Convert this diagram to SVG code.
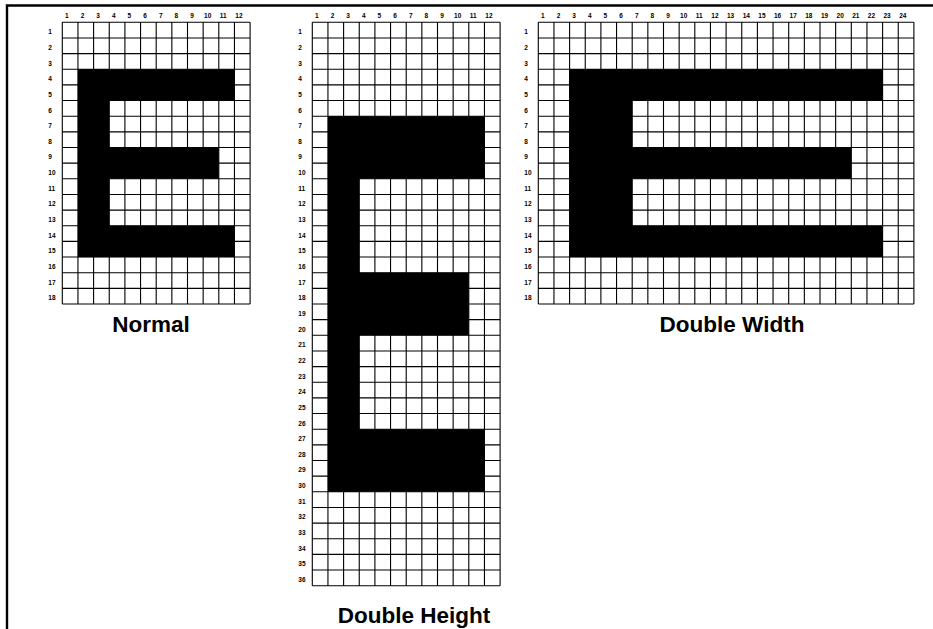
<svg xmlns="http://www.w3.org/2000/svg" width="933" height="629" viewBox="0 0 933 629">
<style>
.grid{fill:none;stroke:#000;stroke-width:1.1}
.blk{fill:#000}
.n{font-family:"Liberation Sans",Arial,sans-serif;font-weight:bold;font-size:6.5px;fill:#000}
.c{text-anchor:middle}
.t{font-family:"Liberation Sans",Arial,sans-serif;font-weight:bold;font-size:22.5px;fill:#000;text-anchor:middle}
.frame{fill:none;stroke:#000;stroke-width:2.4}
</style>
<rect width="933" height="629" fill="#fff"/>
<path class="frame" d="M7,629V5.5H933"/>

<g id="normal" transform="translate(62.3,22.3)">
<rect class="blk" x="15.65" y="46.95" width="156.5" height="31.3"/>
<rect class="blk" x="15.65" y="46.95" width="31.3" height="187.8"/>
<rect class="blk" x="15.65" y="125.2" width="140.85" height="31.3"/>
<rect class="blk" x="15.65" y="203.45" width="156.5" height="31.3"/>
<path class="grid" d="M0,0v281.7m15.65,-281.7v281.7m15.65,-281.7v281.7m15.65,-281.7v281.7m15.65,-281.7v281.7m15.65,-281.7v281.7m15.65,-281.7v281.7m15.65,-281.7v281.7m15.65,-281.7v281.7m15.65,-281.7v281.7m15.65,-281.7v281.7m15.65,-281.7v281.7m15.65,-281.7v281.7M0,0h187.8m-187.8,15.65h187.8m-187.8,15.65h187.8m-187.8,15.65h187.8m-187.8,15.65h187.8m-187.8,15.65h187.8m-187.8,15.65h187.8m-187.8,15.65h187.8m-187.8,15.65h187.8m-187.8,15.65h187.8m-187.8,15.65h187.8m-187.8,15.65h187.8m-187.8,15.65h187.8m-187.8,15.65h187.8m-187.8,15.65h187.8m-187.8,15.65h187.8m-187.8,15.65h187.8m-187.8,15.65h187.8m-187.8,15.65h187.8"/>
<text class="n c" x="4.5" y="-4.6">1</text><text class="n c" x="20.15" y="-4.6">2</text><text class="n c" x="35.8" y="-4.6">3</text><text class="n c" x="51.45" y="-4.6">4</text><text class="n c" x="67.1" y="-4.6">5</text><text class="n c" x="82.75" y="-4.6">6</text><text class="n c" x="98.4" y="-4.6">7</text><text class="n c" x="114.05" y="-4.6">8</text><text class="n c" x="129.7" y="-4.6">9</text><text class="n c" x="145.35" y="-4.6">10</text><text class="n c" x="161" y="-4.6">11</text><text class="n c" x="176.65" y="-4.6">12</text>
<text class="n" x="-14" y="12">1</text><text class="n" x="-14" y="27.65">2</text><text class="n" x="-14" y="43.3">3</text><text class="n" x="-14" y="58.95">4</text><text class="n" x="-14" y="74.6">5</text><text class="n" x="-14" y="90.25">6</text><text class="n" x="-14" y="105.9">7</text><text class="n" x="-14" y="121.55">8</text><text class="n" x="-14" y="137.2">9</text><text class="n" x="-14" y="152.85">10</text><text class="n" x="-14" y="168.5">11</text><text class="n" x="-14" y="184.15">12</text><text class="n" x="-14" y="199.8">13</text><text class="n" x="-14" y="215.45">14</text><text class="n" x="-14" y="231.1">15</text><text class="n" x="-14" y="246.75">16</text><text class="n" x="-14" y="262.4">17</text><text class="n" x="-14" y="278.05">18</text>
</g>
<text id="label-normal" class="t" x="151" y="332">Normal</text>

<g id="double-height" transform="translate(312.3,22.3)">
<rect class="blk" x="15.65" y="93.9" width="156.5" height="62.6"/>
<rect class="blk" x="15.65" y="93.9" width="31.3" height="375.6"/>
<rect class="blk" x="15.65" y="250.4" width="140.85" height="62.6"/>
<rect class="blk" x="15.65" y="406.9" width="156.5" height="62.6"/>
<path class="grid" d="M0,0v563.4m15.65,-563.4v563.4m15.65,-563.4v563.4m15.65,-563.4v563.4m15.65,-563.4v563.4m15.65,-563.4v563.4m15.65,-563.4v563.4m15.65,-563.4v563.4m15.65,-563.4v563.4m15.65,-563.4v563.4m15.65,-563.4v563.4m15.65,-563.4v563.4m15.65,-563.4v563.4M0,0h187.8m-187.8,15.65h187.8m-187.8,15.65h187.8m-187.8,15.65h187.8m-187.8,15.65h187.8m-187.8,15.65h187.8m-187.8,15.65h187.8m-187.8,15.65h187.8m-187.8,15.65h187.8m-187.8,15.65h187.8m-187.8,15.65h187.8m-187.8,15.65h187.8m-187.8,15.65h187.8m-187.8,15.65h187.8m-187.8,15.65h187.8m-187.8,15.65h187.8m-187.8,15.65h187.8m-187.8,15.65h187.8m-187.8,15.65h187.8m-187.8,15.65h187.8m-187.8,15.65h187.8m-187.8,15.65h187.8m-187.8,15.65h187.8m-187.8,15.65h187.8m-187.8,15.65h187.8m-187.8,15.65h187.8m-187.8,15.65h187.8m-187.8,15.65h187.8m-187.8,15.65h187.8m-187.8,15.65h187.8m-187.8,15.65h187.8m-187.8,15.65h187.8m-187.8,15.65h187.8m-187.8,15.65h187.8m-187.8,15.65h187.8m-187.8,15.65h187.8m-187.8,15.65h187.8"/>
<text class="n c" x="4.5" y="-4.6">1</text><text class="n c" x="20.15" y="-4.6">2</text><text class="n c" x="35.8" y="-4.6">3</text><text class="n c" x="51.45" y="-4.6">4</text><text class="n c" x="67.1" y="-4.6">5</text><text class="n c" x="82.75" y="-4.6">6</text><text class="n c" x="98.4" y="-4.6">7</text><text class="n c" x="114.05" y="-4.6">8</text><text class="n c" x="129.7" y="-4.6">9</text><text class="n c" x="145.35" y="-4.6">10</text><text class="n c" x="161" y="-4.6">11</text><text class="n c" x="176.65" y="-4.6">12</text>
<text class="n" x="-14" y="12">1</text><text class="n" x="-14" y="27.65">2</text><text class="n" x="-14" y="43.3">3</text><text class="n" x="-14" y="58.95">4</text><text class="n" x="-14" y="74.6">5</text><text class="n" x="-14" y="90.25">6</text><text class="n" x="-14" y="105.9">7</text><text class="n" x="-14" y="121.55">8</text><text class="n" x="-14" y="137.2">9</text><text class="n" x="-14" y="152.85">10</text><text class="n" x="-14" y="168.5">11</text><text class="n" x="-14" y="184.15">12</text><text class="n" x="-14" y="199.8">13</text><text class="n" x="-14" y="215.45">14</text><text class="n" x="-14" y="231.1">15</text><text class="n" x="-14" y="246.75">16</text><text class="n" x="-14" y="262.4">17</text><text class="n" x="-14" y="278.05">18</text><text class="n" x="-14" y="293.7">19</text><text class="n" x="-14" y="309.35">20</text><text class="n" x="-14" y="325">21</text><text class="n" x="-14" y="340.65">22</text><text class="n" x="-14" y="356.3">23</text><text class="n" x="-14" y="371.95">24</text><text class="n" x="-14" y="387.6">25</text><text class="n" x="-14" y="403.25">26</text><text class="n" x="-14" y="418.9">27</text><text class="n" x="-14" y="434.55">28</text><text class="n" x="-14" y="450.2">29</text><text class="n" x="-14" y="465.85">30</text><text class="n" x="-14" y="481.5">31</text><text class="n" x="-14" y="497.15">32</text><text class="n" x="-14" y="512.8">33</text><text class="n" x="-14" y="528.45">34</text><text class="n" x="-14" y="544.1">35</text><text class="n" x="-14" y="559.75">36</text>
</g>
<text id="label-double-height" class="t" x="414" y="623">Double Height</text>

<g id="double-width" transform="translate(538.3,22.3)">
<rect class="blk" x="31.3" y="46.95" width="313" height="31.3"/>
<rect class="blk" x="31.3" y="46.95" width="62.6" height="187.8"/>
<rect class="blk" x="31.3" y="125.2" width="281.7" height="31.3"/>
<rect class="blk" x="31.3" y="203.45" width="313" height="31.3"/>
<path class="grid" d="M0,0v281.7m15.65,-281.7v281.7m15.65,-281.7v281.7m15.65,-281.7v281.7m15.65,-281.7v281.7m15.65,-281.7v281.7m15.65,-281.7v281.7m15.65,-281.7v281.7m15.65,-281.7v281.7m15.65,-281.7v281.7m15.65,-281.7v281.7m15.65,-281.7v281.7m15.65,-281.7v281.7m15.65,-281.7v281.7m15.65,-281.7v281.7m15.65,-281.7v281.7m15.65,-281.7v281.7m15.65,-281.7v281.7m15.65,-281.7v281.7m15.65,-281.7v281.7m15.65,-281.7v281.7m15.65,-281.7v281.7m15.65,-281.7v281.7m15.65,-281.7v281.7m15.65,-281.7v281.7M0,0h375.6m-375.6,15.65h375.6m-375.6,15.65h375.6m-375.6,15.65h375.6m-375.6,15.65h375.6m-375.6,15.65h375.6m-375.6,15.65h375.6m-375.6,15.65h375.6m-375.6,15.65h375.6m-375.6,15.65h375.6m-375.6,15.65h375.6m-375.6,15.65h375.6m-375.6,15.65h375.6m-375.6,15.65h375.6m-375.6,15.65h375.6m-375.6,15.65h375.6m-375.6,15.65h375.6m-375.6,15.65h375.6m-375.6,15.65h375.6"/>
<text class="n c" x="4.5" y="-4.6">1</text><text class="n c" x="20.15" y="-4.6">2</text><text class="n c" x="35.8" y="-4.6">3</text><text class="n c" x="51.45" y="-4.6">4</text><text class="n c" x="67.1" y="-4.6">5</text><text class="n c" x="82.75" y="-4.6">6</text><text class="n c" x="98.4" y="-4.6">7</text><text class="n c" x="114.05" y="-4.6">8</text><text class="n c" x="129.7" y="-4.6">9</text><text class="n c" x="145.35" y="-4.6">10</text><text class="n c" x="161" y="-4.6">11</text><text class="n c" x="176.65" y="-4.6">12</text><text class="n c" x="192.3" y="-4.6">13</text><text class="n c" x="207.95" y="-4.6">14</text><text class="n c" x="223.6" y="-4.6">15</text><text class="n c" x="239.25" y="-4.6">16</text><text class="n c" x="254.9" y="-4.6">17</text><text class="n c" x="270.55" y="-4.6">18</text><text class="n c" x="286.2" y="-4.6">19</text><text class="n c" x="301.85" y="-4.6">20</text><text class="n c" x="317.5" y="-4.6">21</text><text class="n c" x="333.15" y="-4.6">22</text><text class="n c" x="348.8" y="-4.6">23</text><text class="n c" x="364.45" y="-4.6">24</text>
<text class="n" x="-14" y="12">1</text><text class="n" x="-14" y="27.65">2</text><text class="n" x="-14" y="43.3">3</text><text class="n" x="-14" y="58.95">4</text><text class="n" x="-14" y="74.6">5</text><text class="n" x="-14" y="90.25">6</text><text class="n" x="-14" y="105.9">7</text><text class="n" x="-14" y="121.55">8</text><text class="n" x="-14" y="137.2">9</text><text class="n" x="-14" y="152.85">10</text><text class="n" x="-14" y="168.5">11</text><text class="n" x="-14" y="184.15">12</text><text class="n" x="-14" y="199.8">13</text><text class="n" x="-14" y="215.45">14</text><text class="n" x="-14" y="231.1">15</text><text class="n" x="-14" y="246.75">16</text><text class="n" x="-14" y="262.4">17</text><text class="n" x="-14" y="278.05">18</text>
</g>
<text id="label-double-width" class="t" x="732" y="331.5">Double Width</text>
</svg>
